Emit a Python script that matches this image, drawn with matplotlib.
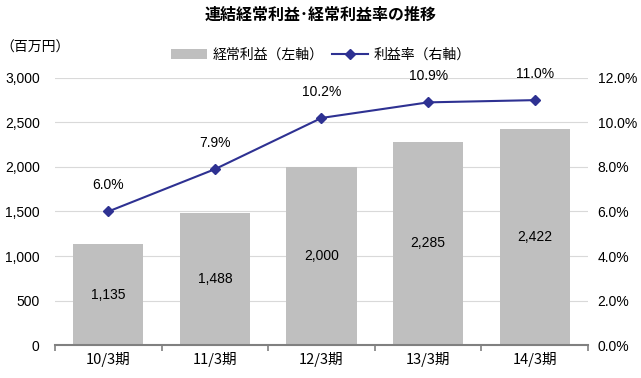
import matplotlib.pyplot as plt
from matplotlib.ticker import FuncFormatter, FixedLocator

plt.rcParams['font.family'] = ['Liberation Sans', 'Noto Sans CJK JP']

periods = ['10/3期', '11/3期', '12/3期', '13/3期', '14/3期']
ordinary_profit = [1135, 1488, 2000, 2285, 2422]
profit_rate = [6.0, 7.9, 10.2, 10.9, 11.0]

fig = plt.figure(figsize=(6.41, 3.78), dpi=100)
ax = fig.add_axes([0.0858, 0.087, 0.8315, 0.707])
ax2 = ax.twinx()

x = list(range(len(periods)))
bars = ax.bar(x, ordinary_profit, width=0.66, color='#BFBFBF', label='経常利益（左軸）', zorder=2)
ax.set_ylim(0, 3000)
ax.set_xlim(-0.5, len(periods) - 0.5)
ax.set_yticks(range(0, 3001, 500))
ax.yaxis.set_major_formatter(FuncFormatter(lambda v, p: f'{int(v):,}'))
ax.grid(axis='y', color='#D9D9D9', linewidth=0.8, zorder=0)
ax.set_xticks(x)
ax.set_xticklabels(periods, fontsize=10.5, family=['Noto Sans CJK JP'])
ax.xaxis.set_minor_locator(FixedLocator([i - 0.5 for i in range(len(periods) + 1)]))
ax.tick_params(axis='x', which='major', length=0, pad=5)
ax.tick_params(axis='x', which='minor', length=4, color='#808080', width=1.2)
ax.tick_params(axis='y', length=0, labelsize=10, pad=11)
for s in ['top', 'left', 'right']:
    ax.spines[s].set_visible(False)
ax.spines['bottom'].set_color('#808080')
ax.spines['bottom'].set_linewidth(1.5)

for xi, v in zip(x, ordinary_profit):
    ax.text(xi, v / 2, f'{v:,}', ha='center', va='center', fontsize=10)

line, = ax2.plot(x, profit_rate, color='#2E3192', marker='D', markersize=5.5,
                 linewidth=1.5, label='利益率（右軸）', zorder=3)
ax2.set_ylim(0, 12)
ax2.set_yticks(range(0, 13, 2))
ax2.yaxis.set_major_formatter(FuncFormatter(lambda v, p: f'{v:.1f}%'))
ax2.tick_params(axis='y', length=0, labelsize=10, pad=7)
for s in ax2.spines.values():
    s.set_visible(False)
for xi, v in zip(x, profit_rate):
    ax2.annotate(f'{v:.1f}%', (xi, v), xytext=(0, 14), textcoords='offset points',
                 ha='center', va='bottom', fontsize=10)

fig.text(0.5, 0.96, '連結経常利益･経常利益率の推移', ha='center', va='center',
         fontsize=11.5, fontweight='bold', family=['Noto Sans CJK JP'])
fig.text(0.0, 0.875, '（百万円）', ha='left', va='center', fontsize=10,
         family=['Noto Sans CJK JP'])
fig.legend(handles=[bars, line], loc='center', bbox_to_anchor=(0.5, 0.855), ncol=2,
           frameon=False, handlelength=2.6, columnspacing=0.6,
           handletextpad=0.4, prop={'family': 'Noto Sans CJK JP', 'size': 10})

fig.savefig('out.png', dpi=100)
